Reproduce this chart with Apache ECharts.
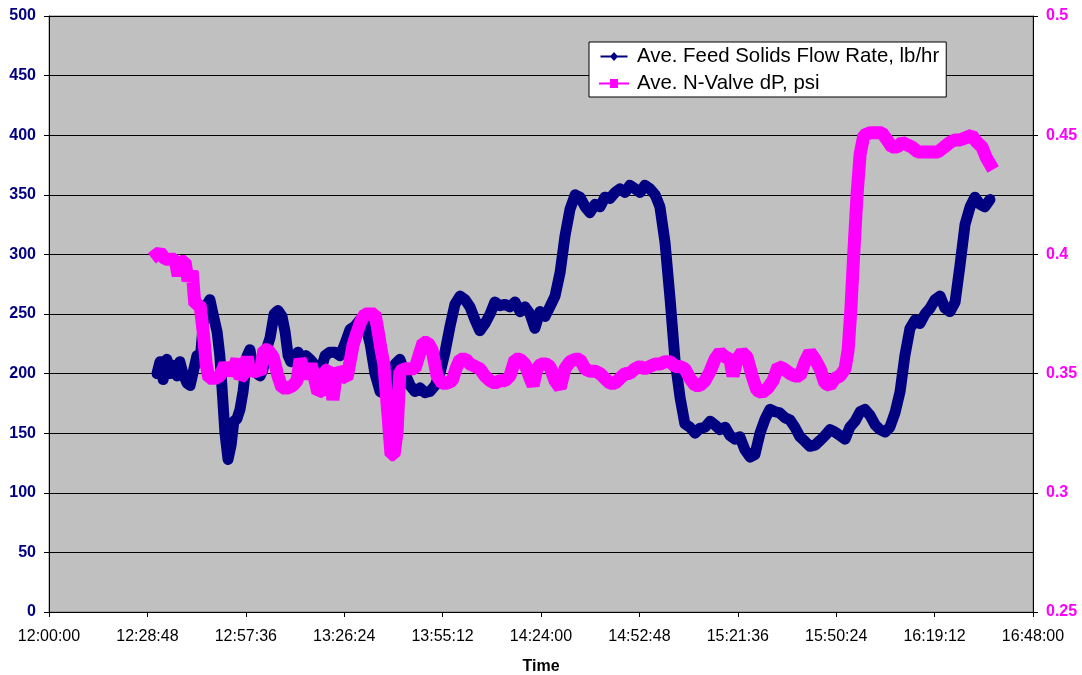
<!DOCTYPE html>
<html>
<head>
<meta charset="utf-8">
<script src="https://cdn.jsdelivr.net/npm/echarts@6/dist/echarts.min.js"></script>
<style>
html,body{margin:0;padding:0;background:#fff;}
#chart{width:1082px;height:675px;}
</style>
</head>
<body>
<div id="chart"></div>
<script>
// Time in minutes after 12:00:00
const flowTime = [31.6,32.5,33.4,34.5,35.4,36.3,37.5,38.3,39.2,40.4,41.3,42.1,43.3,44.2,45.1,46.2,47.1,48.0,49.2,50.0,50.6,51.5,52.4,53.3,54.1,55.0,55.9,56.8,58.0,58.8,59.7,60.9,61.8,62.6,63.8,64.7,65.9,67.0,68.2,69.1,70.0,70.8,72.0,72.9,74.0,75.2,76.4,77.6,78.4,79.3,80.8,82.2,83.7,85.2,86.6,88.1,89.6,91.0,92.5,94.0,95.4,96.9,98.3,99.8,101.3,102.7,104.2,105.7,107.1,108.6,110.0,111.5,113.0,114.4,115.9,117.4,118.8,120.3,121.8,123.2,124.7,126.1,127.6,129.1,130.5,132.0,133.5,134.9,136.4,137.9,139.3,140.8,142.2,143.7,145.2,146.6,148.1,149.6,151.0,152.5,154.0,155.4,156.9,158.3,159.8,161.3,162.7,164.2,165.7,167.1,168.6,170.0,171.5,173.0,174.4,175.9,177.4,178.8,180.3,181.8,183.2,184.7,186.1,187.6,189.1,190.5,192.0,193.5,194.9,196.4,197.9,199.3,200.8,202.2,203.7,205.2,206.6,208.1,209.6,211.0,212.5,213.9,215.4,216.9,218.3,219.8,221.3,222.7,224.2,225.7,227.1,228.6,230.0,231.5,233.0,234.4,235.9,237.4,238.8,240.3,241.8,243.2,244.7,246.1,247.6,249.1,250.5,252.0,253.5,254.9,256.4,257.9,259.3,260.8,262.2,263.7,265.2,266.6,268.1,269.6,271.0,272.5,273.9,275.4];
const flowRate = [200,210,195,212,200,207,198,210,200,192,190,200,215,210,240,258,262,250,235,215,190,150,128,140,160,162,170,185,215,220,205,200,198,203,222,230,250,253,248,235,215,210,215,218,212,215,212,208,195,200,215,218,218,215,225,237,240,245,242,225,200,185,183,192,208,212,200,190,185,188,184,185,190,200,218,240,258,265,262,256,245,236,242,250,260,257,258,256,260,252,256,250,238,252,248,256,265,285,315,338,350,348,340,335,342,340,348,347,352,355,352,358,355,352,358,355,350,340,310,262,212,180,158,155,150,154,155,160,157,153,155,148,145,147,136,130,132,150,162,170,168,167,163,161,155,147,143,139,140,144,148,153,151,148,145,155,160,168,170,165,157,153,151,155,167,185,215,238,245,242,250,255,262,265,255,252,260,290,325,340,348,342,340,346];

const dpTime = [31.6,32.5,34.0,35.4,36.9,37.8,38.6,39.8,40.7,41.9,42.7,44.2,45.1,46.0,46.8,48.6,50.0,51.5,53.0,54.1,55.0,55.9,57.1,58.0,58.8,60.3,61.8,62.9,64.1,65.6,67.0,68.2,70.0,71.4,72.6,73.5,74.6,75.5,76.7,77.9,78.7,79.9,80.8,82.0,83.1,84.3,85.8,87.2,89.0,90.1,91.3,92.5,94.0,95.4,96.3,97.2,98.0,99.2,100.1,101.0,101.9,102.7,104.2,105.7,107.1,108.6,109.5,110.9,112.1,113.6,115.0,116.5,118.0,119.1,120.3,122.0,123.2,124.7,126.1,127.6,129.1,130.5,132.0,133.5,134.9,136.4,137.9,139.3,140.8,141.7,142.8,144.0,145.5,146.6,148.1,149.6,151.0,152.5,154.0,155.4,156.9,158.3,159.8,161.3,162.7,164.2,165.7,167.1,168.6,170.0,171.5,173.0,174.4,175.9,177.4,178.8,180.3,181.8,183.2,184.7,186.1,187.6,189.1,190.5,192.0,193.5,194.9,196.4,197.9,199.3,200.2,201.4,202.8,204.3,205.8,207.2,208.7,210.4,211.9,213.4,215.1,216.9,218.3,219.8,221.3,222.7,224.2,225.7,227.1,228.6,230.0,231.5,233.0,233.9,234.7,235.6,236.5,237.4,238.5,240.3,242.0,243.8,245.3,246.7,248.2,249.7,251.1,252.6,254.3,256.4,258.4,260.2,262.0,263.7,265.2,266.6,268.4,270.1,271.6,273.1,274.2,275.4];
const valveDP = [0.400,0.401,0.398,0.398,0.398,0.391,0.397,0.397,0.389,0.393,0.379,0.379,0.368,0.354,0.348,0.348,0.349,0.354,0.350,0.352,0.356,0.348,0.350,0.357,0.350,0.352,0.350,0.360,0.360,0.357,0.349,0.344,0.344,0.345,0.347,0.356,0.352,0.348,0.354,0.347,0.342,0.343,0.351,0.352,0.339,0.352,0.349,0.348,0.362,0.367,0.372,0.375,0.375,0.375,0.368,0.360,0.354,0.333,0.316,0.316,0.326,0.351,0.352,0.352,0.352,0.359,0.363,0.363,0.360,0.349,0.346,0.346,0.347,0.352,0.356,0.356,0.354,0.353,0.352,0.349,0.347,0.346,0.347,0.347,0.349,0.356,0.356,0.354,0.348,0.345,0.352,0.354,0.354,0.353,0.347,0.344,0.352,0.355,0.356,0.356,0.352,0.351,0.351,0.350,0.348,0.346,0.346,0.348,0.350,0.350,0.352,0.353,0.352,0.353,0.354,0.354,0.355,0.355,0.353,0.353,0.352,0.348,0.345,0.345,0.347,0.351,0.356,0.359,0.357,0.356,0.349,0.356,0.359,0.357,0.349,0.343,0.342,0.344,0.347,0.353,0.352,0.350,0.349,0.349,0.355,0.359,0.356,0.352,0.346,0.345,0.348,0.349,0.352,0.360,0.377,0.402,0.425,0.442,0.450,0.451,0.451,0.451,0.448,0.445,0.445,0.447,0.446,0.445,0.443,0.443,0.443,0.443,0.445,0.447,0.448,0.448,0.449,0.450,0.447,0.445,0.441,0.438];

const seriesNames = ['Ave. Feed Solids Flow Rate, lb/hr', 'Ave. N-Valve dP, psi'];
const axisTitle = 'Time';

function fmtTime(sec) {
  const s = Math.round(sec);
  const h = 12 + Math.floor(s / 3600);
  const m = Math.floor((s % 3600) / 60);
  const ss = s % 60;
  const p = n => (n < 10 ? '0' : '') + n;
  return h + ':' + p(m) + ':' + p(ss);
}

const flowData = flowTime.map((t, i) => [t * 60, flowRate[i]]);
const dpData = dpTime.map((t, i) => [t * 60, valveDP[i]]);

const FONT = '"Liberation Sans", Arial, sans-serif';
const chart = echarts.init(document.getElementById('chart'), null, {renderer: 'canvas'});
chart.setOption({
  animation: false,
  backgroundColor: '#ffffff',
  grid: {
    left: 49, right: 49, top: 16, bottom: 63,
    outerBoundsMode: 'none', containLabel: false,
    show: true, backgroundColor: '#C0C0C0', borderColor: '#808080', borderWidth: 1
  },
  legend: {
    orient: 'vertical',
    left: 589, top: 42,
    padding: [4, 7, 3, 10],
    itemGap: 6,
    itemWidth: 34, itemHeight: 9,
    backgroundColor: '#ffffff',
    borderColor: '#000000', borderWidth: 1,
    textStyle: {fontFamily: FONT, fontSize: 20.4, color: '#000', lineHeight: 21, padding: [0, 0, 0, 1]},
    data: [
      {name: seriesNames[0], icon: 'path://M0,4 L30,4 L30,6 L0,6 Z M15,0 L19.5,5 L15,10 L10.5,5 Z', itemStyle: {color: '#000080'}},
      {name: seriesNames[1], icon: 'path://M0,4 L30,4 L30,6 L0,6 Z M11,0.5 L19,0.5 L19,9.5 L11,9.5 Z', itemStyle: {color: '#FF00FF'}}
    ]
  },
  xAxis: {
    type: 'value',
    min: 0, max: 17280, interval: 1728,
    name: axisTitle, nameLocation: 'middle', nameGap: 47,
    nameTextStyle: {fontFamily: FONT, fontSize: 16, fontWeight: 'bold', color: '#000'},
    axisLine: {show: true, onZero: false, lineStyle: {color: '#000', width: 1}},
    axisTick: {show: true, length: 5, lineStyle: {color: '#000'}},
    axisLabel: {fontFamily: FONT, fontSize: 16, color: '#000', margin: 17, formatter: v => fmtTime(v)},
    splitLine: {show: false}
  },
  yAxis: [
    {
      type: 'value', min: 0, max: 500, interval: 50, position: 'left',
      axisLine: {show: true, lineStyle: {color: '#000', width: 1}},
      axisTick: {show: true, length: 5, lineStyle: {color: '#000'}},
      axisLabel: {fontFamily: FONT, fontSize: 16, fontWeight: 'bold', color: '#000080', margin: 13},
      splitLine: {show: true, lineStyle: {color: '#000', width: 1}}
    },
    {
      type: 'value', min: 0.25, max: 0.5, interval: 0.05, position: 'right',
      axisLine: {show: true, lineStyle: {color: '#000', width: 1}},
      axisTick: {show: true, length: 5, lineStyle: {color: '#000'}},
      axisLabel: {fontFamily: FONT, fontSize: 16, fontWeight: 'bold', color: '#FF00FF', margin: 13,
        formatter: v => String(Math.round(v * 100) / 100)},
      splitLine: {show: false}
    }
  ],
  series: [
    {
      name: seriesNames[0], type: 'line', yAxisIndex: 0, data: flowData,
      symbol: 'none', color: '#000080',
      lineStyle: {color: '#000080', width: 11, join: 'round', cap: 'round'},
      z: 2
    },
    {
      name: seriesNames[1], type: 'line', yAxisIndex: 1, data: dpData,
      symbol: 'none', color: '#FF00FF',
      lineStyle: {color: '#FF00FF', width: 13, join: 'bevel', cap: 'square'},
      z: 3
    }
  ]
});
</script>
</body>
</html>
